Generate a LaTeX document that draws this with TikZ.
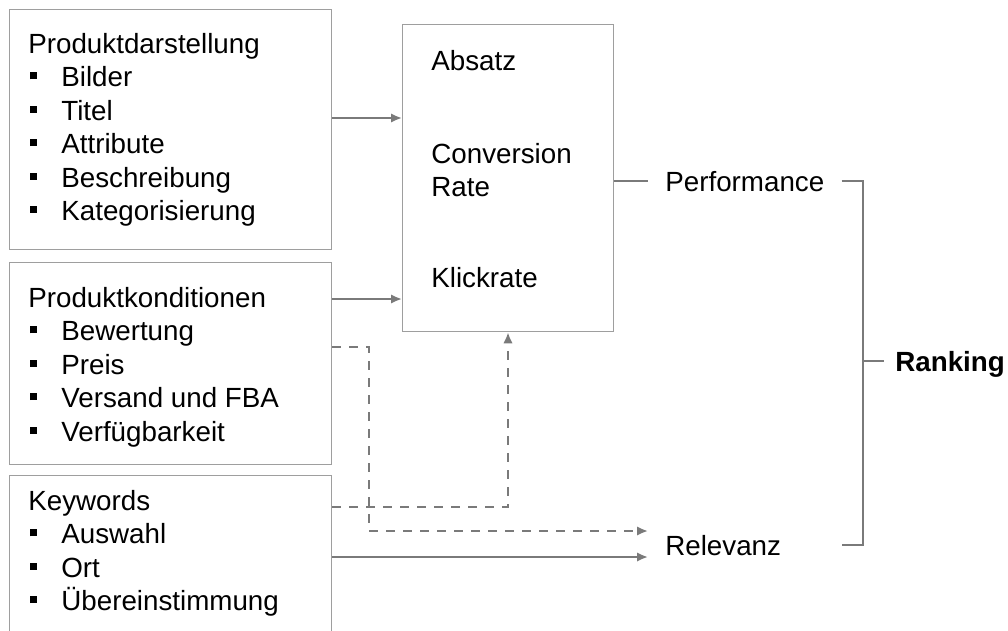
\documentclass[tikz,border=0pt]{standalone}
\usepackage{fontspec}
\setmainfont{Liberation Sans}
\usetikzlibrary{positioning,calc,arrows.meta}
\colorlet{boxGray}{black!38}
\colorlet{lineGray}{black!52}
\newcommand{\bul}{\makebox[0.66cm][l]{\hspace{0.04cm}\rule[0.15cm]{0.14cm}{0.14cm}}}

\begin{document}
\begin{tikzpicture}[x=0.02cm, y=-0.02cm,
        every node/.style={font=\fontsize{15.8}{19}\selectfont, align=left},
        box/.style={draw=boxGray, line width=0.8pt, minimum width=6.44cm, anchor=north west, inner sep=0},
        list/.style={anchor=north west, inner sep=0},
        lbl/.style={anchor=west, inner xsep=0.34cm, inner ysep=0, text height=0.4cm, text depth=0cm},
        conn/.style={draw=lineGray, line width=1.2pt},
        arr/.style={conn, -{Latex[length=0.22cm, width=0.19cm]}},
        dashconn/.style={arr, dash pattern=on 0.18cm off 0.16cm}]
        \clip (0,0) rectangle (1008,630);

        % input boxes
        \node[box, minimum height=4.8cm] (darst) at (9,9) {};
        \node[box, minimum height=4.04cm] (kond) at (9,262) {};
        \node[box, minimum height=3.4cm] (kw) at (9,475) {};
        \node[list] (darstText) at (28,33)
            {Produktdarstellung\\\bul Bilder\\\bul Titel\\\bul Attribute\\\bul Beschreibung\\\bul Kategorisierung};
        \node[list] (kondText) at (28,287)
            {Produktkonditionen\\\bul Bewertung\\\bul Preis\\\bul Versand und FBA\\\bul Verfügbarkeit};
        \node[list] (kwText) at (28,490)
            {Keywords\\\bul Auswahl\\\bul Ort\\\bul Übereinstimmung};

        % metrics
        \node[box, minimum width=4.22cm, minimum height=6.14cm] (mid) at (402,24) {};
        \node[list] (metrics) at (431,50)
            {Absatz\\[1.19cm]Conversion\\Rate\\[1.15cm]Klickrate};

        % outputs
        \node[lbl] (perf) at (648,181) {Performance};
        \node[lbl] (rel) at (648,545) {Relevanz};
        \node[lbl, inner xsep=0.22cm, font=\fontsize{15.8}{19}\selectfont\bfseries] (rank) at (884,361) {Ranking};
        \coordinate (brk) at (863,361);

        \draw[arr] (darst.east |- 0,118) -- (mid.west |- 0,118);
        \draw[arr] (kond.east |- 0,299) -- (mid.west |- 0,299);
        \draw[dashconn] (kond.east |- 0,347) -| (369,531) -- (rel.west |- 0,531);
        \draw[dashconn] (kw.east |- 0,507) -| (mid.south -| 508,0);
        \draw[arr] (kw.east |- 0,557) -- (rel.west |- 0,557);
        \draw[conn] (mid.east |- perf) -- (perf.west);
        \draw[conn] (perf.east) -| (brk) |- (rel.east -| perf.east);
        \draw[conn] (brk) -- (rank.west);
    \end{tikzpicture}
\end{document}
